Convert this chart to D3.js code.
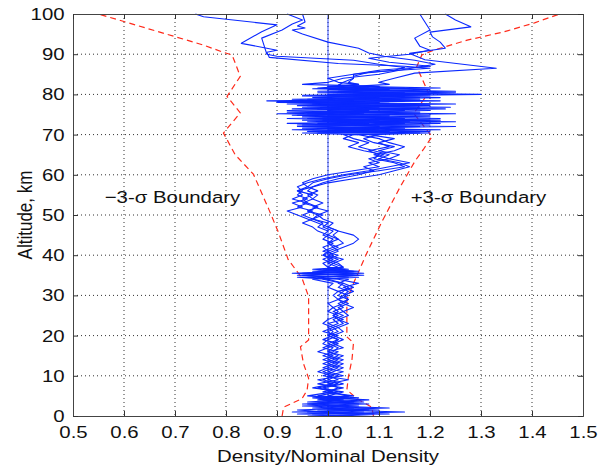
<!DOCTYPE html>
<html>
<head>
<meta charset="utf-8">
<script src="https://cdn.jsdelivr.net/npm/d3@7"></script>
<style>
  body { margin: 0; background: #fff; }
  svg { display: block; font-family: "Liberation Sans", Arial, Helvetica, sans-serif; }
</style>
</head>
<body>
<script>
// tick values
var xTicks = [0.5, 0.6, 0.7, 0.8, 0.9, 1.0, 1.1, 1.2, 1.3, 1.4, 1.5];
var yTicks = [0, 10, 20, 30, 40, 50, 60, 70, 80, 90, 100];

// 3-sigma boundaries, [density ratio, altitude km]
var lowerBound = [[0.91,0],[0.913,2.2],[0.949,4.3],[0.959,6.4],[0.962,9.4],[0.952,13],[0.946,17.2],[0.962,18.9],[0.962,29.7],[0.949,34.3],[0.922,38.9],[0.903,45.6],[0.884,51.4],[0.854,60.1],[0.818,65],[0.795,70.4],[0.828,75.4],[0.802,79.5],[0.828,84.5],[0.812,89.8],[0.792,90.6],[0.755,92.3],[0.55,100]];
var upperBound = [[1.089,0],[1.086,2.2],[1.057,4.3],[1.037,6.5],[1.04,9.8],[1.047,14],[1.05,18.2],[1.037,19.7],[1.037,28.9],[1.05,33],[1.076,40.5],[1.106,48.4],[1.142,57.1],[1.171,63.5],[1.187,66.3],[1.204,69.5],[1.168,75.3],[1.197,80.3],[1.174,86.9],[1.184,89.8],[1.207,91],[1.273,93.5],[1.346,95.6],[1.405,97.8],[1.454,100]];

// dispersed density profiles, [altitude km, density ratio]
var run1 = [[0,1.02],[0.5,1.12],[1,0.96],[1.5,1.08],[2,0.99],[2.5,1.06],[3,0.97],[3.5,1.05],[4,1.0],[4.5,1.04],[5,0.98],[6,1.02],[7,0.99],[8,1.03],[9,1.0],[10,1.02],[11,0.99],[12,1.01],[13,1.03],[14,1.0],[15,1.02],[16,1.0],[17,1.03],[18,1.01],[19,1.02],[20,1.0],[21,1.02],[22,1.01],[23,1.03],[24,1.02],[25,1.01],[26,1.03],[27,1.02],[28,1.04],[29,1.02],[30,1.03],[31,1.04],[32,1.02],[33,1.03],[34,0.99],[34.5,1.06],[35,0.94],[35.5,1.05],[36,0.97],[36.5,1.04],[37,1.0],[38,1.01],[39,0.99],[40,1.01],[41,1.0],[42,1.02],[43,1.0],[44,1.01],[45,0.99],[46,1.0],[47,0.98],[48,0.99],[49,0.97],[50,0.98],[51,0.96],[52,0.98],[53,0.95],[54,0.97],[55,0.96],[56,0.98],[57,0.96],[58,0.97],[59,1.0],[60,1.04],[61,1.1],[62,1.15],[63,1.13],[64,1.09],[65,1.1],[66,1.08],[67,1.12],[68,1.1],[69,1.13],[70,1.08],[70.4,1.2],[70.8,1.0],[71.2,1.15],[71.6,0.95],[72,1.18],[72.4,1.02],[72.8,1.22],[73.2,0.96],[73.6,1.1],[74,0.92],[74.4,1.2],[74.8,1.0],[75.2,1.25],[75.6,0.97],[76,1.15],[76.4,0.93],[76.8,1.1],[77.2,1.0],[77.6,1.2],[78,0.9],[78.4,1.15],[78.8,1.02],[79.2,1.22],[79.6,1.05],[80,1.3],[80.4,1.05],[80.8,1.18],[81.2,1.0],[81.6,1.22],[82,1.05],[82.5,1.12],[83,1.1],[84,1.13],[85.3,1.17],[86.5,1.33],[88.6,1.19],[90.2,1.16],[91.5,1.23],[93,1.22],[94.3,1.205],[95.5,1.2],[96.8,1.28],[98.5,1.25],[100,1.23]];
var run2 = [[0,0.99],[0.5,1.06],[1,0.93],[1.5,1.1],[2,0.97],[2.5,1.04],[3,0.95],[3.5,1.07],[4,0.98],[4.5,1.02],[5,0.96],[6,1.01],[7,0.98],[8,1.02],[9,0.99],[10,1.01],[11,0.98],[12,1.0],[13,1.02],[14,0.99],[15,1.01],[16,0.98],[17,1.0],[18,1.02],[19,0.99],[20,1.01],[21,1.0],[22,1.02],[23,1.0],[24,1.03],[25,1.01],[26,1.02],[27,1.01],[28,1.03],[29,1.02],[30,1.04],[31,1.02],[32,1.05],[33,1.03],[34,1.0],[34.5,0.94],[35,1.07],[35.5,0.96],[36,1.06],[36.5,0.99],[37,1.02],[38,1.0],[39,1.02],[40,0.99],[41,1.01],[42,1.03],[43,1.05],[44,1.06],[45,1.05],[46,1.02],[47,1.0],[48,0.98],[49,0.96],[50,0.94],[51,0.92],[52,0.95],[53,0.93],[54,0.96],[55,0.94],[56,0.95],[57,0.94],[58,0.96],[59,0.99],[60,1.03],[61,1.08],[62,1.12],[63,1.16],[64,1.12],[65,1.14],[66,1.1],[67,1.13],[68,1.09],[69,1.07],[70,1.1],[70.4,0.98],[70.8,1.12],[71.2,0.93],[71.6,1.15],[72,0.97],[72.4,1.2],[72.8,0.92],[73.2,1.16],[73.6,0.99],[74,1.22],[74.4,0.95],[74.8,1.12],[75.2,0.9],[75.6,1.18],[76,1.0],[76.4,1.23],[76.8,0.95],[77.2,1.15],[77.6,0.92],[78,1.1],[78.4,0.88],[78.8,1.18],[79.2,0.97],[79.6,1.2],[80,1.0],[80.4,1.15],[80.8,0.98],[81.2,1.2],[81.6,1.0],[82,1.1],[82.5,0.95],[83,1.0],[84,1.03],[85,1.1],[86,1.14],[87.5,1.21],[88.5,1.17],[89.5,1.11],[90.3,1.08],[91.5,1.06],[93,1.0],[95,0.95],[96,0.93],[96.5,0.955],[97,0.94],[98,0.955],[100,0.95]];
var run3 = [[0,1.05],[0.5,0.97],[1,1.15],[1.5,1.0],[2,1.09],[2.5,0.95],[3,1.06],[3.5,0.98],[4,1.08],[4.5,0.99],[5,1.05],[6,0.99],[7,1.03],[8,0.98],[9,1.02],[10,1.0],[11,1.03],[12,0.99],[13,1.01],[14,1.03],[15,1.0],[16,1.02],[17,0.99],[18,1.01],[19,1.03],[20,1.01],[21,1.03],[22,1.02],[23,1.04],[24,1.02],[25,1.04],[26,1.03],[27,1.05],[28,1.03],[29,1.04],[30,1.03],[31,1.05],[32,1.03],[33,1.06],[34,1.02],[34.5,0.96],[35,1.05],[35.5,0.93],[36,1.04],[36.5,0.97],[37,1.03],[38,1.01],[39,1.03],[40,1.0],[41,1.02],[42,1.01],[43,1.03],[44,1.02],[45,1.01],[46,1.02],[47,1.0],[48,1.01],[49,0.99],[50,0.98],[51,1.0],[52,0.97],[53,0.99],[54,0.97],[55,0.98],[56,0.96],[57,0.97],[58,0.99],[59,1.02],[60,1.06],[61,1.09],[62,1.07],[63,1.1],[64,1.08],[65,1.11],[66,1.07],[67,1.04],[68,1.06],[69,1.03],[70,1.05],[70.4,1.18],[70.8,0.96],[71.2,1.1],[71.6,1.02],[72,1.25],[72.4,0.94],[72.8,1.08],[73.2,1.0],[73.6,1.2],[74,0.96],[74.4,1.12],[74.8,0.93],[75.2,1.07],[75.6,1.0],[76,1.2],[76.4,0.98],[76.8,1.24],[77.2,0.94],[77.6,1.08],[78,0.98],[78.4,1.22],[78.8,0.96],[79.2,1.1],[79.6,1.0],[80,1.2],[80.4,0.98],[80.8,1.25],[81.2,1.05],[81.6,1.15],[82,1.0],[82.5,1.06],[83,1.04],[84,1.05],[84.5,1.05],[85.5,1.08],[86.5,1.2],[87,1.15],[87.7,1.02],[89.2,0.885],[90.5,0.88],[91,0.9],[92.7,0.83],[95.6,0.87],[97.3,0.9],[99.3,0.756],[100,0.74]];
var run4 = [[0,0.96],[0.5,1.09],[1,1.0],[1.5,0.94],[2,1.05],[2.5,1.0],[3,1.08],[3.5,0.96],[4,1.03],[4.5,0.97],[5,1.04],[6,1.0],[7,1.02],[8,1.0],[9,1.04],[10,0.99],[11,1.01],[12,1.03],[13,1.0],[14,1.02],[15,0.99],[16,1.01],[17,1.02],[18,1.0],[19,1.02],[20,1.0],[21,1.01],[22,1.0],[23,1.02],[24,1.01],[25,1.03],[26,1.01],[27,1.03],[28,1.02],[29,1.04],[30,1.02],[31,1.03],[32,1.04],[33,1.02],[34,1.04],[34.5,0.98],[35,1.06],[35.5,0.95],[36,1.05],[36.5,1.0],[37,1.03],[38,1.02],[39,1.0],[40,1.02],[41,0.99],[42,1.01],[43,1.0],[44,1.02],[45,1.0],[46,1.01],[47,0.99],[48,1.0],[49,0.97],[50,0.99],[51,0.96],[52,0.98],[53,0.96],[54,0.95],[55,0.97],[56,0.94],[57,0.96],[58,0.95],[59,0.97],[60,1.0],[61,1.05],[62,1.1],[63,1.08],[64,1.12],[65,1.09],[66,1.13],[67,1.15],[68,1.12],[69,1.1],[70,1.06],[70.4,0.95],[70.8,1.2],[71.2,1.0],[71.6,1.12],[72,0.94],[72.4,1.1],[72.8,0.98],[73.2,1.25],[73.6,0.95],[74,1.15],[74.4,0.99],[74.8,1.2],[75.2,0.96],[75.6,1.1],[76,0.92],[76.4,1.15],[76.8,1.0],[77.2,1.2],[77.6,0.97],[77.8,1.12],[78.2,0.9],[78.6,1.1],[79,1.0],[79.4,1.15],[79.8,0.95],[80.2,1.2],[80.6,1.0],[81,1.12],[81.4,0.97],[81.8,1.08],[82.3,1.02],[83,1.03],[84,1.05],[85,1.05],[86,1.13],[86.7,1.15],[87.5,1.1],[88.5,1.05],[89.5,0.9],[90,0.88],[92,0.875],[94,0.87],[96,0.91],[97.5,0.93],[98.5,0.95],[100,0.92]];
var run5 = [[0,1.03],[0.5,0.94],[1,1.07],[1.5,0.98],[2,1.12],[2.5,1.01],[3,0.96],[3.5,1.04],[4,0.99],[4.5,1.06],[5,1.0],[6,1.03],[7,0.97],[8,1.01],[9,0.98],[10,1.03],[11,1.0],[12,1.02],[13,0.99],[14,1.01],[15,1.03],[16,1.0],[17,1.01],[18,0.99],[19,1.0],[20,1.02],[21,0.99],[22,1.01],[23,0.99],[24,1.0],[25,1.02],[26,1.0],[27,1.01],[28,1.0],[29,1.02],[30,1.01],[31,1.02],[32,1.0],[33,1.01],[34,0.97],[34.5,1.04],[35,0.95],[35.5,1.07],[36,0.98],[36.5,1.03],[37,1.0],[38,0.99],[39,1.01],[40,0.99],[41,1.0],[42,0.99],[43,1.01],[44,0.99],[45,1.0],[46,0.98],[47,0.97],[48,0.95],[49,0.97],[50,0.95],[51,0.97],[52,0.94],[53,0.96],[54,0.93],[55,0.95],[56,0.94],[57,0.97],[58,1.0],[59,1.05],[60,1.1],[61,1.13],[62,1.16],[63,1.14],[64,1.1],[65,1.12],[66,1.09],[67,1.06],[68,1.08],[69,1.05],[70,1.03],[70.4,1.15],[70.8,0.97],[71.2,1.22],[71.6,1.0],[72,1.1],[72.4,0.95],[72.8,1.15],[73.2,1.02],[73.6,1.22],[74,0.98],[74.4,1.08],[74.8,0.94],[75.2,1.18],[75.6,0.92],[76,1.08],[76.4,1.0],[76.8,1.18],[77.2,0.96],[77.6,1.25],[78,1.0],[78.4,1.05],[78.8,0.93],[79.2,1.18],[79.6,0.95],[80,1.12],[80.4,1.25],[80.8,1.02],[81.2,1.12],[81.6,0.98],[82,1.03],[82.5,1.06],[83,1.02],[84,1.0],[85,1.05],[86,1.1],[87,1.2],[88,1.12],[89,1.08],[90,1.16],[91,1.2],[92,1.18],[94,1.17],[96,1.2],[98,1.19],[100,1.18]];
var runs = [run1, run2, run3, run4, run5];

var W = 608, H = 468;
var margin = { top: 14, right: 25, bottom: 52, left: 73 };
var width = W - margin.left - margin.right,
  height = H - margin.top - margin.bottom;

// lettering in the figure runs a bit wide
var fs = "17px", stretch = 1.2;

var x = d3.scaleLinear().domain([0.5, 1.5]).range([0, width]);
var y = d3.scaleLinear().domain([0, 100]).range([height, 0]);

var svg = d3.select("body").append("svg")
  .attr("width", W)
  .attr("height", H)
  .append("g")
  .attr("transform", "translate(" + margin.left + "," + margin.top + ")");

// dotted grid
svg.append("g").selectAll("line")
  .data(xTicks.slice(1, -1))
  .enter().append("line")
  .attr("x1", function (d) { return x(d); })
  .attr("x2", function (d) { return x(d); })
  .attr("y1", 0).attr("y2", height)
  .attr("stroke", "#333").attr("stroke-width", 1)
  .attr("stroke-dasharray", "1,3");
svg.append("g").selectAll("line")
  .data(yTicks.slice(1, -1))
  .enter().append("line")
  .attr("y1", function (d) { return y(d); })
  .attr("y2", function (d) { return y(d); })
  .attr("x1", 0).attr("x2", width)
  .attr("stroke", "#333").attr("stroke-width", 1)
  .attr("stroke-dasharray", "1,3");

// boundaries
var bLine = d3.line()
  .x(function (d) { return x(d[0]); })
  .y(function (d) { return y(d[1]); });
[lowerBound, upperBound].forEach(function (b) {
  svg.append("path")
    .datum(b)
    .attr("d", bLine)
    .attr("fill", "none")
    .attr("stroke", "#ff2a1a")
    .attr("stroke-width", 1.2)
    .attr("stroke-dasharray", "6,4");
});

// nominal
svg.append("line")
  .attr("x1", x(1)).attr("x2", x(1))
  .attr("y1", 0).attr("y2", height)
  .attr("stroke", "#0022ff").attr("stroke-width", 0.8);

// profiles
var pLine = d3.line()
  .x(function (d) { return x(d[1]); })
  .y(function (d) { return y(d[0]); });
svg.append("g").selectAll("path")
  .data(runs)
  .enter().append("path")
  .attr("d", pLine)
  .attr("fill", "none")
  .attr("stroke", "#0a28ff")
  .attr("stroke-width", 1.1)
  .attr("stroke-linejoin", "round");

// axes (matlab style, ticks inside on all sides)
var xAxis = d3.axisBottom(x).tickValues(xTicks).tickSize(-5).tickPadding(10)
  .tickFormat(d3.format(".1f"));
var yAxis = d3.axisLeft(y).tickValues(yTicks).tickSize(-5).tickPadding(7);

svg.append("g").attr("transform", "translate(0," + height + ")").call(xAxis);
svg.append("g").call(yAxis);
svg.append("g").call(d3.axisTop(x).tickValues(xTicks).tickSize(-5).tickFormat(""));
svg.append("g").attr("transform", "translate(" + width + ",0)")
  .call(d3.axisRight(y).tickValues(yTicks).tickSize(-5).tickFormat(""));

svg.selectAll(".domain").attr("stroke", "#444");
svg.selectAll(".tick line").attr("stroke", "#333");
svg.selectAll(".tick text")
  .attr("font-size", fs).attr("fill", "#111")
  .attr("font-family", "Liberation Sans, Arial, sans-serif")
  .attr("transform", "scale(" + stretch + ",1)");

// labels
function label(tx, ty, str, rot) {
  svg.append("text")
    .attr("transform", "translate(" + tx + "," + ty + ") scale(" + stretch + ",1)" + (rot ? " rotate(-90)" : ""))
    .attr("text-anchor", "middle").attr("font-size", fs).attr("fill", "#111")
    .text(str);
}
label(width / 2, height + 45.5, "Density/Nominal Density");
label(-41, height / 2, "Altitude, km", true);
label(x(0.695), y(52.9), "\u22123-\u03c3 Boundary");
label(x(1.295), y(52.9), "+3-\u03c3 Boundary");
</script>
</body>
</html>
